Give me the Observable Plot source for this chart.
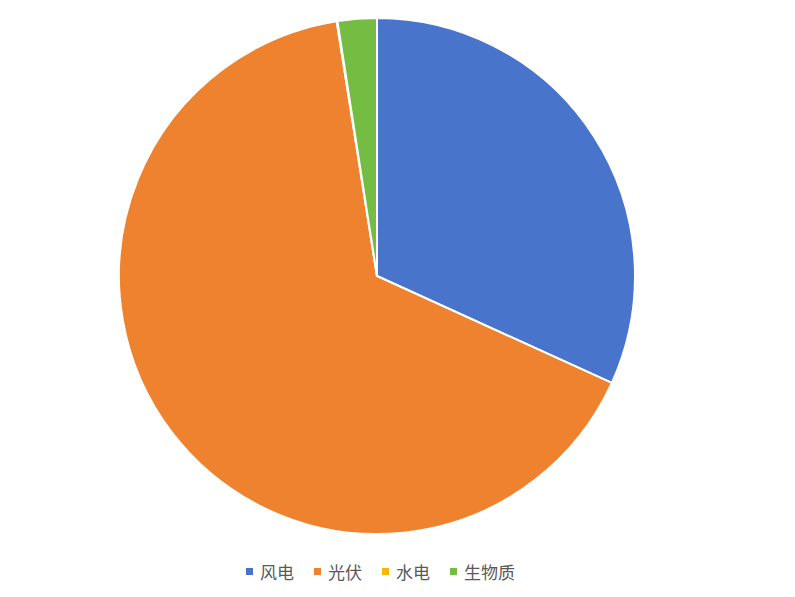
<!DOCTYPE html>
<html><head><meta charset="utf-8">
<script src="https://cdn.jsdelivr.net/npm/d3@7"></script>
<script src="https://cdn.jsdelivr.net/npm/@observablehq/plot@0.6"></script>
<style>
body{margin:0;background:#fff;font-family:"Noto Sans CJK SC","Noto Sans",sans-serif}
#legend{display:flex;justify-content:center;align-items:center;width:795px;height:32px;padding-right:34px;box-sizing:border-box;color:#595959;font-size:17px}
#legend .it{display:flex;align-items:center;margin:0 10px}
#legend .sw{width:7px;height:7px;margin-right:7px}
</style>
</head><body><div id="chart"></div><div id="legend"></div>
<script>
const categories = ["风电","光伏","水电","生物质"];
const values = [31.8, 65.7, 0.05, 2.45];
const colors = ["#4874CB","#EE822F","#F2BA02","#75BD42"];

const data = categories.map((c,i)=>({category:c, value:values[i], color:colors[i]}));
const W = 795, H = 555, CX = 377, CY = 276, R = 258;

const pieMark = (index, scales, vals, dims) => {
  const arcs = d3.pie().sort(null).value(d=>d.value)(data);
  const arc = d3.arc().innerRadius(0).outerRadius(scales.x(CX+R)-scales.x(CX));
  const g = d3.create("svg:g").attr("transform", `translate(${scales.x(CX)},${scales.y(CY)})`);
  g.selectAll("path").data(arcs).join("path")
    .attr("d", arc)
    .attr("fill", d=>d.data.color)
    .attr("stroke", "#fff")
    .attr("stroke-width", 2)
    .attr("stroke-linejoin", "round");
  return g.node();
};

const chart = Plot.plot({
  width: W, height: H,
  margin: 0,
  x: {domain:[0,W], range:[0,W], axis:null},
  y: {domain:[0,H], range:[0,H], axis:null},
  marks: [
    Plot.dot([{x:CX,y:CY}], {x:"x", y:"y", r:0}),
    pieMark
  ]
});
document.getElementById("chart").appendChild(chart);

const lg = document.getElementById("legend");
data.forEach(d=>{
  const it = document.createElement("div"); it.className="it";
  const sw = document.createElement("span"); sw.className="sw"; sw.style.background=d.color;
  const tx = document.createElement("span"); tx.textContent=d.category;
  it.appendChild(sw); it.appendChild(tx); lg.appendChild(it);
});
</script>
</body></html>
